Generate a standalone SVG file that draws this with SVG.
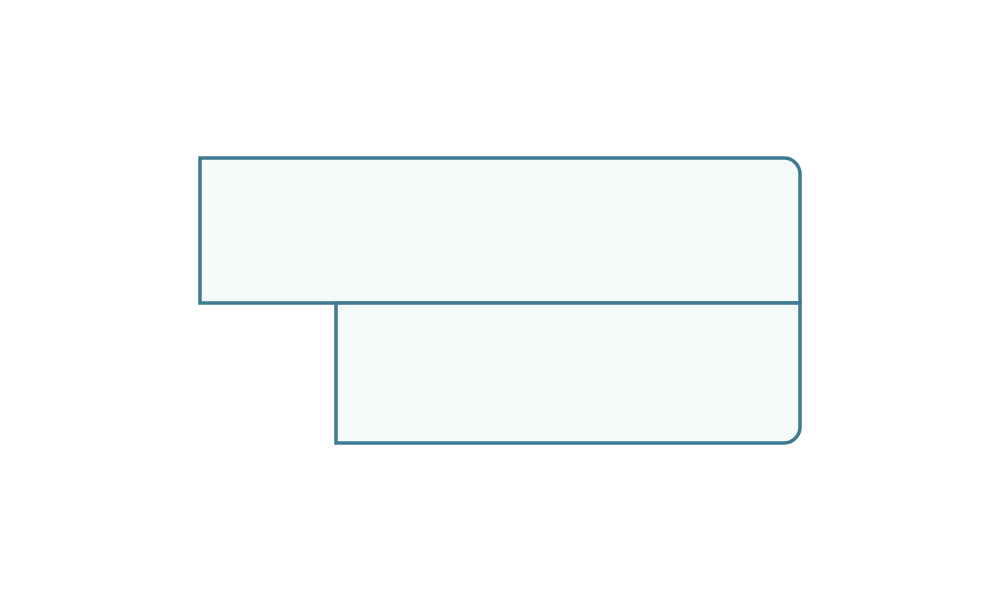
<svg xmlns="http://www.w3.org/2000/svg" width="1000" height="600" viewBox="0 0 1000 600">
<style>
.box{fill:#f4faf7;stroke:#3e7b93;stroke-width:3.5;stroke-linejoin:miter}
</style>
<rect width="1000" height="600" fill="#ffffff"/>
<g id="top-part">
<path class="box" d="M200,158 H784 A16,16 0 0 1 800,174 V303 H200 Z"/>
</g>
<g id="bottom-part">
<path class="box" d="M336,303 H800 V427 A16,16 0 0 1 784,443 H336 Z"/>
</g>
</svg>
